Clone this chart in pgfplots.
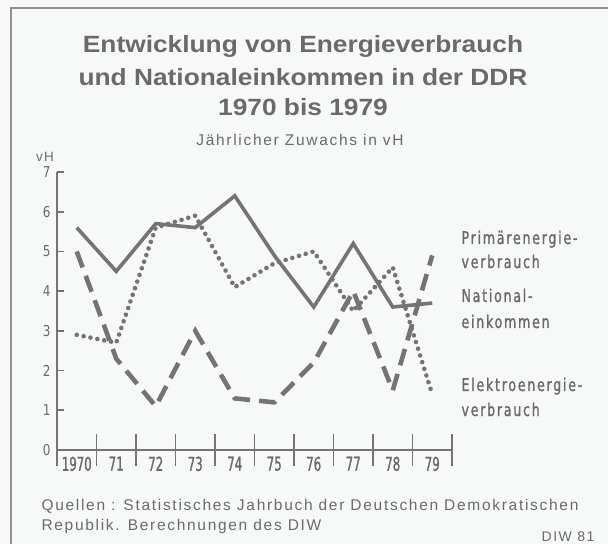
\documentclass[border=0pt]{standalone}
\usepackage{fontspec}
\setmainfont{Liberation Sans}
\newfontfamily\titlefont[FakeStretch=1.12]{Liberation Sans}
\newfontfamily\labfont[FakeStretch=0.72,LetterSpace=10,FakeBold=1.2]{DejaVu Sans}
\newfontfamily\tickfont[FakeStretch=0.62,FakeBold=1.2]{DejaVu Sans}
\newfontfamily\ytickfont[FakeStretch=0.8]{DejaVu Sans}
\newfontfamily\footfont[LetterSpace=11]{Liberation Sans}
\usepackage{pgfplots}
\pgfplotsset{compat=1.18}
\definecolor{ink}{HTML}{747478}
\definecolor{txt}{HTML}{6A6A6E}
\definecolor{bg}{HTML}{F7F9F9}
\pgfplotstableread{
yr  nat  prim  elek
0   5.6  5.0   2.9
1   4.5  2.3   2.7
2   5.7  1.1   5.6
3   5.6  3.0   5.9
4   6.4  1.3   4.1
5   4.9  1.2   4.7
6   3.6  2.2   5.0
7   5.2  4.0   3.5
8   3.6  1.5   4.6
9   3.7  4.9   1.4
}\datatable
\begin{document}
\begin{tikzpicture}[x=1pt,y=1pt]
\useasboundingbox (0,0) rectangle (608,544);
\fill[bg] (0,0) rectangle (608,544);
\draw[ink!80, line width=1.5pt] (11,0) -- (11,536) -- (608,536);
% titles
\node[text=txt, font=\titlefont\bfseries\fontsize{23.5}{26}\selectfont, anchor=base] at (303,491) {Entwicklung von Energieverbrauch};
\node[text=txt, font=\titlefont\bfseries\fontsize{23.5}{26}\selectfont, anchor=base] at (303,458) {und Nationaleinkommen in der DDR};
\node[text=txt, font=\titlefont\bfseries\fontsize{23.5}{26}\selectfont, anchor=base] at (303,428) {1970 bis 1979};
\node[text=txt, font=\footfont\fontsize{15.5}{18}\selectfont, anchor=base] at (300,398) {Jährlicher Zuwachs in vH};
\node[text=txt, font=\footfont\fontsize{13.5}{14}\selectfont, anchor=base] at (45,382) {vH};
% right labels
\node[text=txt, font=\labfont\fontsize{17.5}{20}\selectfont, anchor=base west] at (458,300) {Primärenergie-};
\node[text=txt, font=\labfont\fontsize{17.5}{20}\selectfont, anchor=base west] at (458,276) {verbrauch};
\node[text=txt, font=\labfont\fontsize{17.5}{20}\selectfont, anchor=base west] at (458,242) {National-};
\node[text=txt, font=\labfont\fontsize{17.5}{20}\selectfont, anchor=base west] at (458,216) {einkommen};
\node[text=txt, font=\labfont\fontsize{17.5}{20}\selectfont, anchor=base west] at (458,153) {Elektroenergie-};
\node[text=txt, font=\labfont\fontsize{17.5}{20}\selectfont, anchor=base west] at (458,128) {verbrauch};
% footer
\node[text=txt, font=\footfont\fontsize{15.5}{15}\selectfont, anchor=base west] at (38,34) {Quellen : Statistisches Jahrbuch der Deutschen Demokratischen};
\node[text=txt, font=\footfont\fontsize{15.5}{15}\selectfont, anchor=base west] at (38,14) {Republik. Berechnungen des DIW};
\node[text=txt, font=\footfont\fontsize{14}{15}\selectfont, anchor=base east] at (598,3) {DIW 81};
\begin{axis}[
  at={(57pt,94pt)}, anchor=south west,
  width=395pt, height=278pt, scale only axis,
  xmin=-0.5, xmax=9.5, ymin=0, ymax=7,
  axis lines*=left,
  axis line style={ink, line width=1.6pt},
  xtick={-0.5,0.5,...,9.5},
  x tick label as interval,
  xticklabels={1970,71,72,73,74,75,76,77,78,79},
  xtick style={/pgfplots/major tick length=32pt, ink, line width=1.6pt},
  xtick align=center,
  ytick={0,...,7},
  ytick align=inside,
  ytick style={/pgfplots/major tick length=7pt, ink, line width=1.6pt},
  xticklabel style={font=\tickfont\fontsize{19}{19}\selectfont, text=txt, yshift=-1pt},
  yticklabel style={font=\ytickfont\fontsize{15}{15}\selectfont, text=txt, xshift=-3pt},
  /pgf/number format/assume math mode=true,
  clip=false,
]
\addplot[ink, line width=3.6pt] table[x=yr, y=nat] {\datatable};
\addplot[ink, line width=4.6pt, dash pattern=on 17pt off 9pt] table[x=yr, y=prim] {\datatable};
\addplot[ink, line width=4.6pt, line cap=round, dash pattern=on 0pt off 7pt] table[x=yr, y=elek] {\datatable};
\end{axis}
\end{tikzpicture}
\end{document}
